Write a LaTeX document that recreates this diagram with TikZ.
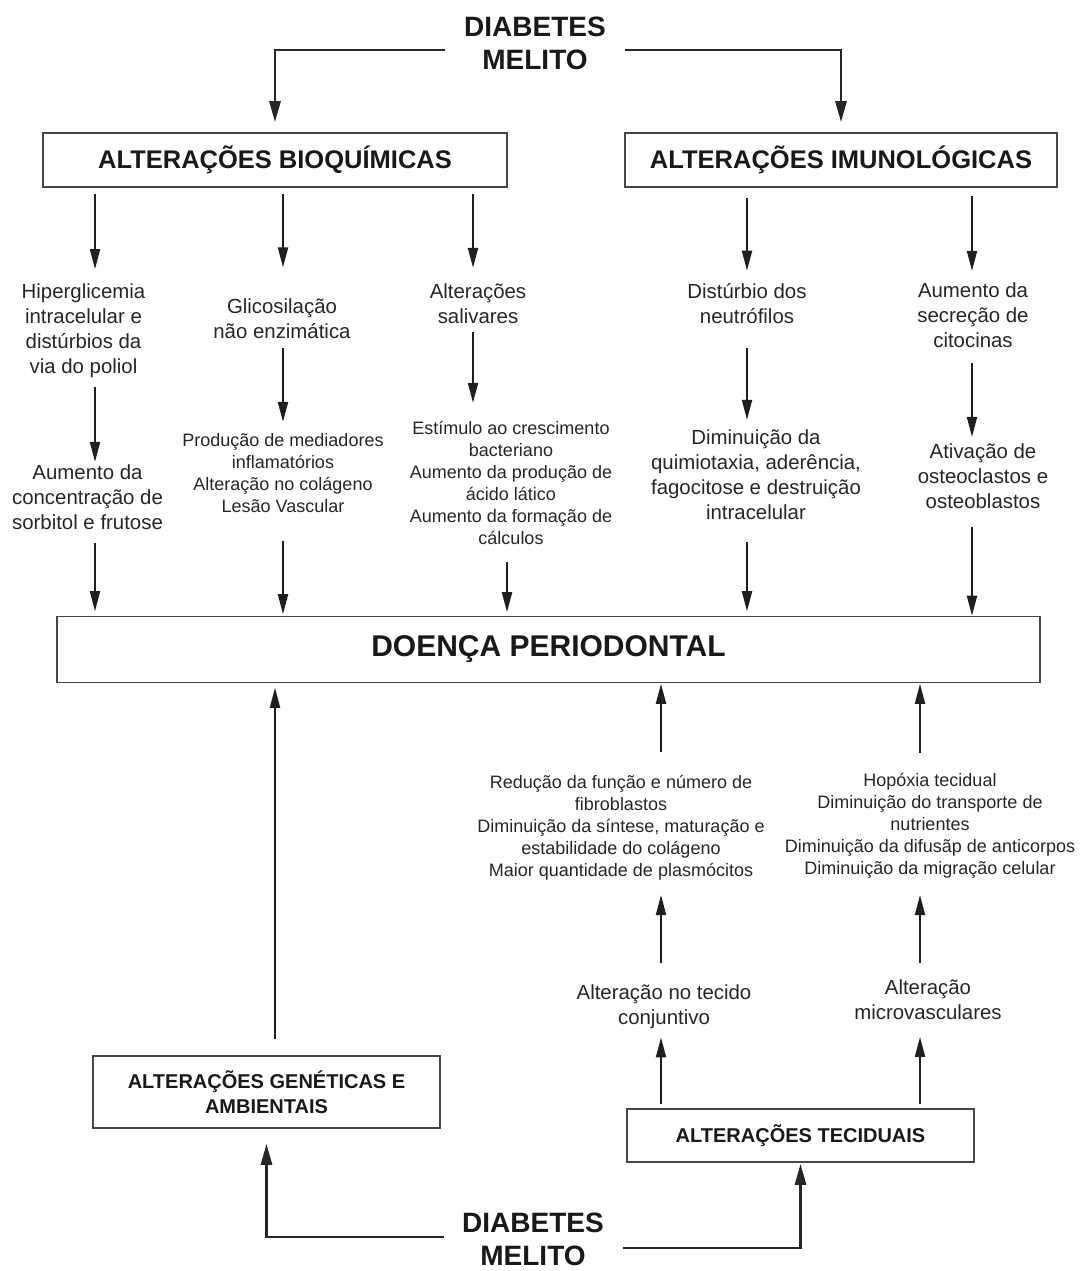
\documentclass[tikz,border=0pt]{standalone}
\usepackage{fontspec}
\setmainfont{Liberation Sans}
\usetikzlibrary{arrows.meta,calc}
\begin{document}
\begin{tikzpicture}[x=1pt,y=-1pt,
  arr/.style={draw=black!88, line width=2pt, -{Triangle[length=20pt,width=10pt]}},
  linkarr/.style={draw=black!85, line width=2.8pt, -{Triangle[length=21pt,width=11pt]}},
  box/.style={draw=black!72, line width=1.6pt, fill=white, inner sep=0pt, align=center, text=black!90},
  txt/.style={inner sep=0pt, align=center, text=black!85, font=\fontsize{20.4}{25}\selectfont},
  stxt/.style={inner sep=0pt, align=center, text=black!85, font=\fontsize{18}{22}\selectfont},
  dmtxt/.style={inner sep=0pt, align=center, text=black!90, font=\fontsize{28}{33}\selectfont\bfseries}]
\path[use as bounding box, fill=white] (0,0) rectangle (1082,1271);

% top
\node[dmtxt] (dm1) at (535,43) {DIABETES\\MELITO};
\node[box, minimum width=464pt, minimum height=54pt, font=\fontsize{25.5}{30}\selectfont\bfseries] (bio) at (275,160) {ALTERAÇÕES BIOQUÍMICAS};
\node[box, minimum width=432pt, minimum height=54pt, font=\fontsize{25.5}{30}\selectfont\bfseries] (imu) at (841,160) {ALTERAÇÕES IMUNOLÓGICAS};
\coordinate (tl) at (445,50);
\coordinate (tr) at (625,50);
\draw[linkarr, shorten >=10pt] (tl) -| (bio.north);
\draw[linkarr, shorten >=10pt] (tr) -| (imu.north);

% columns
\coordinate (c1) at (95,0);
\coordinate (c2) at (283,0);
\coordinate (c3) at (473,0);
\coordinate (c3b) at (507,0);
\coordinate (c4) at (747,0);
\coordinate (c5) at (972,0);
\coordinate (b1) at (275,0);
\coordinate (b2) at (661,0);
\coordinate (b3) at (920,0);

% text nodes
\node[txt] (hip) at (83.5,330.3) {Hiperglicemia\\intracelular e\\distúrbios da\\via do poliol};
\node[txt] (sor) at (87.5,497.6) {Aumento da\\concentração de\\sorbitol e frutose};
\node[txt] (gli) at (282,318.6) {Glicosilação\\não enzimática};
\node[stxt] (pro) at (283,472.7) {Produção de mediadores\\inflamatórios\\Alteração no colágeno\\Lesão Vascular};
\node[txt] (sal) at (478,303.5) {Alterações\\salivares};
\node[stxt] (est) at (511,482.7) {Estímulo ao crescimento\\bacteriano\\Aumento da produção de\\ácido lático\\Aumento da formação de\\cálculos};
\node[txt] (neu) at (747,304) {Distúrbio dos\\neutrófilos};
\node[txt] (dim) at (756,475) {Diminuição da\\quimiotaxia, aderência,\\fagocitose e destruição\\intracelular};
\node[txt] (cit) at (973,315.6) {Aumento da\\secreção de\\citocinas};
\node[txt] (ost) at (983,476.6) {Ativação de\\osteoclastos e\\osteoblastos};

\node[box, minimum width=983pt, minimum height=66pt, font=\fontsize{30}{34}\selectfont\bfseries] (doe) at (548.5,649.5) {DOENÇA PERIODONTAL};

\node[stxt] (fib) at (621,827.6) {Redução da função e número de\\fibroblastos\\Diminuição da síntese, maturação e\\estabilidade do colágeno\\Maior quantidade de plasmócitos};
\node[stxt] (hop) at (930,825.6) {Hopóxia tecidual\\Diminuição do transporte de\\nutrientes\\Diminuição da difusãp de anticorpos\\Diminuição da migração celular};
\node[txt] (con) at (664,1006.8) {Alteração no tecido\\conjuntivo};
\node[txt] (mic) at (928,1000) {Alteração\\microvasculares};

\node[box, minimum width=347pt, minimum height=72pt, font=\fontsize{20}{25}\selectfont\bfseries] (gen) at (266.5,1092) {ALTERAÇÕES GENÉTICAS E\\AMBIENTAIS};
\node[box, minimum width=347pt, minimum height=53pt, font=\fontsize{20}{25}\selectfont\bfseries] (tec) at (800.5,1135.5) {ALTERAÇÕES TECIDUAIS};

\node[dmtxt] (dm2) at (533,1239) {DIABETES\\MELITO};
\coordinate (bl) at (444,1237);
\coordinate (br) at (623,1248);
\draw[linkarr, shorten >=15pt] (bl) -| (gen.south);
\draw[linkarr, shorten >=1pt] (br) -| (tec.south);

% arrows from boxes
\draw[arr, shorten <=6pt, shorten >=14pt] (bio.south -| c1) -- (hip.north -| c1);
\draw[arr, shorten <=6pt, shorten >=31pt] (bio.south -| c2) -- (gli.north -| c2);
\draw[arr, shorten <=6pt, shorten >=15.5pt] (bio.south -| c3) -- (sal.north -| c3);
\draw[arr, shorten <=10pt, shorten >=13pt] (imu.south -| c4) -- (neu.north -| c4);
\draw[arr, shorten <=8pt, shorten >=12pt] (imu.south -| c5) -- (cit.north -| c5);

% second level
\draw[arr, shorten <=9.4pt, shorten >=3pt] (hip.south -| c1) -- (sor.north -| c1);
\draw[arr, shorten <=9.7pt, shorten >=11pt] (gli.south -| c2) -- (pro.north -| c2);
\draw[arr, shorten <=8.2pt, shorten >=18pt] (sal.south -| c3) -- (est.north -| c3);
\draw[arr, shorten <=23.7pt, shorten >=10pt] (neu.south -| c4) -- (dim.north -| c4);
\draw[arr, shorten <=14.7pt, shorten >=7pt] (cit.south -| c5) -- (ost.north -| c5);

% into doença
\draw[arr, shorten <=12.7pt, shorten >=4.5pt] (sor.south -| c1) -- (doe.north -| c1);
\draw[arr, shorten <=28.5pt, shorten >=1.5pt] (pro.south -| c2) -- (doe.north -| c2);
\draw[arr, shorten <=17.5pt, shorten >=3.5pt] (est.south -| c3b) -- (doe.north -| c3b);
\draw[arr, shorten <=21.7pt, shorten >=4.5pt] (dim.south -| c4) -- (doe.north -| c4);
\draw[arr, shorten <=17.7pt, shorten >=0pt] (ost.south -| c5) -- (doe.north -| c5);

% bottom upward arrows
\draw[arr, shorten <=16pt, shorten >=4.5pt] (gen.north -| b1) -- (doe.south -| b1);
\draw[arr, shorten <=23pt, shorten >=0.5pt] (fib.north -| b2) -- (doe.south -| b2);
\draw[arr, shorten <=20pt, shorten >=0.5pt] (hop.north -| b3) -- (doe.south -| b3);
\draw[arr, shorten <=22pt, shorten >=14.7pt] (con.north -| b2) -- (fib.south -| b2);
\draw[arr, shorten <=17pt, shorten >=16.7pt] (mic.north -| b3) -- (hop.south -| b3);
\draw[arr, shorten <=4pt, shorten >=8.4pt] (tec.north -| b2) -- (con.south -| b2);
\draw[arr, shorten <=4pt, shorten >=16.7pt] (tec.north -| b3) -- (mic.south -| b3);
\end{tikzpicture}
\end{document}
